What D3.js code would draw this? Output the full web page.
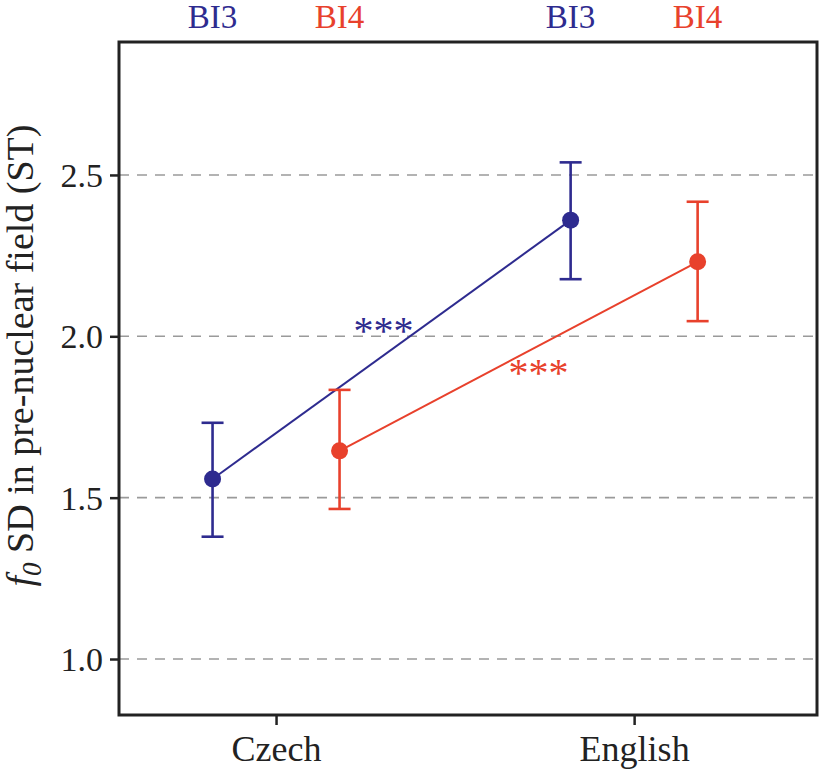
<!DOCTYPE html>
<html>
<head>
<meta charset="utf-8">
<script src="https://cdn.jsdelivr.net/npm/d3@7"></script>
<style>
    body { margin: 0; background: #fff; }
    text { font-family: "Liberation Serif", "Times New Roman", serif; }
</style>
</head>
<body>
<div id="chart"></div>
<script>
// values
var languages = ["Czech", "English"];
var groups = ["BI3", "BI4"];
var groupColors = ["#2e2b8f", "#e8412c"];
var bi3Mean = [1.558, 2.360];
var bi3Lower = [1.379, 2.177];
var bi3Upper = [1.732, 2.539];
var bi4Mean = [1.645, 2.231];
var bi4Lower = [1.465, 2.047];
var bi4Upper = [1.834, 2.417];
var yTicks = [1.0, 1.5, 2.0, 2.5];
var signif = ["***", "***"];

var width = 827;
var height = 773;
var margin = {top: 42, right: 10, bottom: 58, left: 119};
var w = width - margin.left - margin.right;
var h = height - margin.top - margin.bottom;

var series = [
    {name: groups[0], color: groupColors[0], mean: bi3Mean, lo: bi3Lower, hi: bi3Upper, star: signif[0]},
    {name: groups[1], color: groupColors[1], mean: bi4Mean, lo: bi4Lower, hi: bi4Upper, star: signif[1]}
];

var x = d3.scalePoint().domain(languages).range([w * 0.225, w * 0.738]);
var offset = d3.scalePoint().domain(groups).range([-63.5, 63.5]);
var y = d3.scaleLinear().domain([0.8265, 2.912]).range([h, 0]);

var svg = d3.select("#chart")
    .append("svg")
    .attr("width", width)
    .attr("height", height)
    .append("g")
    .attr("transform", "translate(" + margin.left + "," + margin.top + ")");

// dashed grid
svg.selectAll(".grid")
    .data(yTicks)
    .enter()
    .append("line")
    .attr("x1", 0)
    .attr("x2", w)
    .attr("y1", function (d) { return y(d); })
    .attr("y2", function (d) { return y(d); })
    .attr("stroke", "#9a9a9a")
    .attr("stroke-width", 1.6)
    .attr("stroke-dasharray", "10,8");

// axes
var yAxis = d3.axisLeft(y).tickValues(yTicks).tickFormat(d3.format(".1f")).tickSize(9).tickPadding(7);
var gy = svg.append("g").call(yAxis);
gy.select(".domain").remove();
gy.selectAll("line").attr("stroke", "#222").attr("stroke-width", 2.5);
gy.selectAll("text").attr("font-size", 34).attr("fill", "#222").attr("dy", "0.34em");

var xAxis = d3.axisBottom(x).tickSize(10).tickPadding(10);
var gx = svg.append("g").attr("transform", "translate(0," + h + ")").call(xAxis);
gx.select(".domain").remove();
gx.selectAll("line").attr("stroke", "#222").attr("stroke-width", 2.5);
gx.selectAll("text").attr("font-size", 36).attr("fill", "#222");

var gTop = svg.append("g");
languages.forEach(function (lang) {
    series.forEach(function (s) {
        gTop.append("text")
            .attr("x", x(lang) + offset(s.name))
            .attr("y", -14)
            .attr("text-anchor", "middle")
            .attr("font-size", 33)
            .attr("fill", s.color)
            .text(s.name);
    });
});

// frame
svg.append("rect")
    .attr("width", w)
    .attr("height", h)
    .attr("fill", "none")
    .attr("stroke", "#222")
    .attr("stroke-width", 3);

// y label
var ylab = svg.append("text")
    .attr("transform", "translate(-86," + (h / 2 - 23) + ") rotate(-90)")
    .attr("text-anchor", "middle")
    .attr("font-size", 38)
    .attr("fill", "#222");
ylab.append("tspan").attr("font-style", "italic").text("f");
ylab.append("tspan").attr("font-style", "italic").attr("font-size", 27).attr("dy", 8).text("0");
ylab.append("tspan").attr("dy", -8).text("  SD in pre-nuclear field (ST)");

// lines, error bars, points
series.forEach(function (s, si) {
    var pts = languages.map(function (lang, i) {
        return {x: x(lang) + offset(s.name), m: s.mean[i], lo: s.lo[i], hi: s.hi[i]};
    });

    svg.append("path")
        .datum(pts)
        .attr("fill", "none")
        .attr("stroke", s.color)
        .attr("stroke-width", 2)
        .attr("d", d3.line().x(function (d) { return d.x; }).y(function (d) { return y(d.m); }));

    var g = svg.append("g").attr("stroke", s.color).attr("stroke-width", 2.6);
    g.selectAll(".bar").data(pts).enter().append("line")
        .attr("x1", function (d) { return d.x; })
        .attr("x2", function (d) { return d.x; })
        .attr("y1", function (d) { return y(d.lo); })
        .attr("y2", function (d) { return y(d.hi); });
    g.selectAll(".capHi").data(pts).enter().append("line")
        .attr("x1", function (d) { return d.x - 11; })
        .attr("x2", function (d) { return d.x + 11; })
        .attr("y1", function (d) { return y(d.hi); })
        .attr("y2", function (d) { return y(d.hi); });
    g.selectAll(".capLo").data(pts).enter().append("line")
        .attr("x1", function (d) { return d.x - 11; })
        .attr("x2", function (d) { return d.x + 11; })
        .attr("y1", function (d) { return y(d.lo); })
        .attr("y2", function (d) { return y(d.lo); });

    svg.selectAll(".pt" + si).data(pts).enter().append("circle")
        .attr("cx", function (d) { return d.x; })
        .attr("cy", function (d) { return y(d.m); })
        .attr("r", 8.5)
        .attr("fill", s.color);

    // significance stars near middle of each line
    var mx = (pts[0].x + pts[1].x) / 2;
    var my = (y(pts[0].m) + y(pts[1].m)) / 2;
    svg.append("text")
        .attr("x", si == 0 ? mx - 8 : mx + 20)
        .attr("y", si == 0 ? my - 6 : my + 30)
        .attr("text-anchor", "middle")
        .attr("font-size", 40)
        .attr("fill", s.color)
        .text(s.star);
});
</script>
</body>
</html>
